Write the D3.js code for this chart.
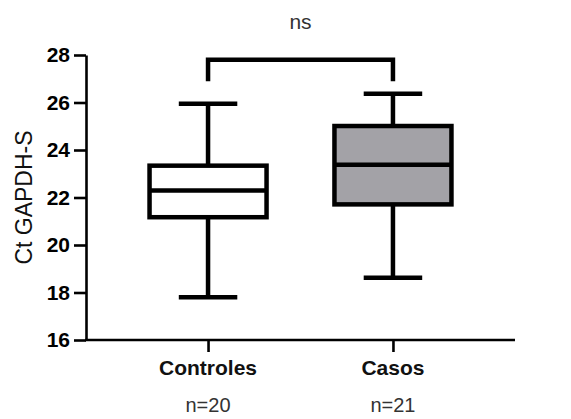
<!DOCTYPE html>
<html>
<head>
<meta charset="utf-8">
<script src="https://cdn.jsdelivr.net/npm/d3@7"></script>
<style>
  body { margin: 0; background: #fff; }
  text { font-family: "Liberation Sans", Arial, sans-serif; }
  .axis path, .axis line { stroke: #000; stroke-width: 2.6; }
  .axis text { fill: #000; font-weight: bold; font-size: 21px; font-family: "Liberation Sans", Arial, sans-serif; }
</style>
</head>
<body>
<div id="chart"></div>
<script>
// groups and box stats
var groups = ["Controles", "Casos"];
var counts = ["n=20", "n=21"];
var mins = [17.8, 18.62];
var q1s = [21.17, 21.71];
var medians = [22.29, 23.38];
var q3s = [23.34, 25.01];
var maxs = [25.95, 26.37];
var fills = ["#ffffff", "#a3a2a7"];
var yTicks = [16, 18, 20, 22, 24, 26, 28];
// significance bracket: top value, leg end value, label
var sigTop = [27.8];
var sigLeg = [26.9];
var sigLabel = ["ns"];

var dataset = groups.map(function(g, i) {
  return { group: g, n: counts[i], min: mins[i], q1: q1s[i], median: medians[i],
           q3: q3s[i], max: maxs[i], fill: fills[i] };
});

var w = 571;
var h = 419;
var padL = 86, padR = 515, padT = 55, padB = 340;

var xScale = d3.scalePoint()
  .domain(groups)
  .range([padL, padR])
  .padding(0.66);

var yScale = d3.scaleLinear()
  .domain([16, 28])
  .range([padB, padT]);

var boxW = 117;

var svg = d3.select("#chart")
  .append("svg")
  .attr("width", w)
  .attr("height", h);

// Axes
var yAxis = d3.axisLeft(yScale)
  .tickValues(yTicks)
  .tickSize(12)
  .tickPadding(4)
  .tickSizeOuter(0);

svg.append("g")
  .attr("class", "axis")
  .attr("transform", "translate(" + padL + ",0)")
  .call(yAxis);

var xAxis = d3.axisBottom(xScale)
  .tickSize(12)
  .tickSizeOuter(0)
  .tickFormat("");

svg.append("g")
  .attr("class", "axis")
  .attr("transform", "translate(0," + padB + ")")
  .call(xAxis)
  .select(".domain")
  .attr("d", "M" + (padL - 1) + ",0H" + padR);

// category labels
svg.selectAll(".cat")
  .data(dataset)
  .enter().append("text")
  .attr("x", function(d) { return xScale(d.group); })
  .attr("y", 375)
  .attr("text-anchor", "middle")
  .attr("font-size", "21px")
  .attr("font-weight", "bold")
  .attr("fill", "#111")
  .text(function(d) { return d.group; });

svg.selectAll(".nlab")
  .data(dataset)
  .enter().append("text")
  .attr("x", function(d) { return xScale(d.group); })
  .attr("y", 412)
  .attr("text-anchor", "middle")
  .attr("font-size", "20px")
  .attr("fill", "#333")
  .text(function(d) { return d.n; });

// y title
svg.append("text")
  .attr("transform", "translate(32," + ((padT + padB) / 2) + ") rotate(-90)")
  .attr("text-anchor", "middle")
  .attr("font-size", "23px")
  .attr("fill", "#111")
  .text("Ct GAPDH-S");

// boxes
var box = svg.selectAll(".box")
  .data(dataset)
  .enter().append("g")
  .attr("class", "box");

box.append("line")
  .attr("x1", function(d) { return xScale(d.group); })
  .attr("x2", function(d) { return xScale(d.group); })
  .attr("y1", function(d) { return yScale(d.max); })
  .attr("y2", function(d) { return yScale(d.min); })
  .attr("stroke", "#000")
  .attr("stroke-width", 4.5);

box.selectAll(".cap")
  .data(function(d) { return [d.min, d.max].map(function(v) { return { g: d.group, v: v }; }); })
  .enter().append("line")
  .attr("x1", function(d) { return xScale(d.g) - boxW / 4; })
  .attr("x2", function(d) { return xScale(d.g) + boxW / 4; })
  .attr("y1", function(d) { return yScale(d.v); })
  .attr("y2", function(d) { return yScale(d.v); })
  .attr("stroke", "#000")
  .attr("stroke-width", 4.5);

box.append("rect")
  .attr("x", function(d) { return xScale(d.group) - boxW / 2; })
  .attr("width", boxW)
  .attr("y", function(d) { return yScale(d.q3); })
  .attr("height", function(d) { return yScale(d.q1) - yScale(d.q3); })
  .attr("fill", function(d) { return d.fill; })
  .attr("stroke", "#000")
  .attr("stroke-width", 4.5);

box.append("line")
  .attr("x1", function(d) { return xScale(d.group) - boxW / 2; })
  .attr("x2", function(d) { return xScale(d.group) + boxW / 2; })
  .attr("y1", function(d) { return yScale(d.median); })
  .attr("y2", function(d) { return yScale(d.median); })
  .attr("stroke", "#000")
  .attr("stroke-width", 4.5);

// significance bracket
var x1 = xScale(groups[0]), x2 = xScale(groups[1]);
svg.append("path")
  .attr("d", "M" + x1 + "," + yScale(sigLeg[0]) + "V" + yScale(sigTop[0]) +
             "H" + x2 + "V" + yScale(sigLeg[0]))
  .attr("fill", "none")
  .attr("stroke", "#000")
  .attr("stroke-width", 4.5);

svg.append("text")
  .attr("x", (x1 + x2) / 2)
  .attr("y", 29)
  .attr("text-anchor", "middle")
  .attr("font-size", "21px")
  .attr("fill", "#333")
  .text(sigLabel[0]);
</script>
</body>
</html>
